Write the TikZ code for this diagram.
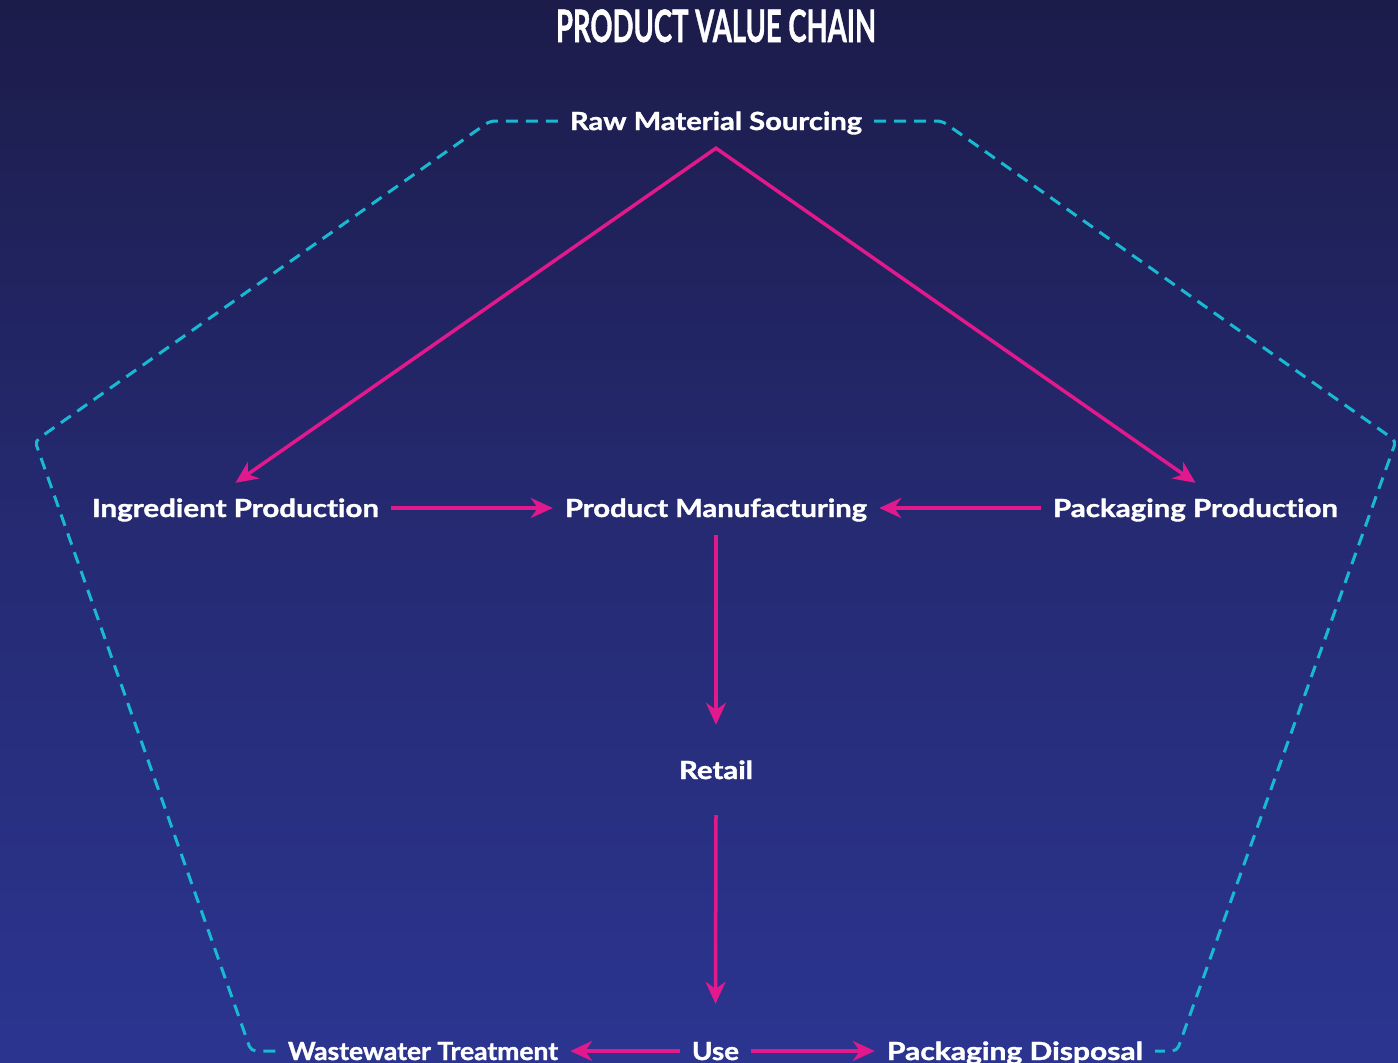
\documentclass[tikz,border=0pt]{standalone}
\usepackage{fontspec}
\setmainfont{Lato}[Ligatures=NoCommon, BoldFeatures={FakeBold=1.3}]
\usetikzlibrary{arrows.meta}
\definecolor{bgtop}{HTML}{1C1C4A}
\definecolor{bgmid}{HTML}{252A72}
\definecolor{bgbot}{HTML}{2B3590}
\definecolor{pinkc}{HTML}{E2198C}
\definecolor{cyanl}{HTML}{19B9D1}
\newcommand{\fw}[2]{\resizebox{#1pt}{\height}{#2}}
\begin{document}
\begin{tikzpicture}[x=1pt,y=-1pt,
 lbl/.style={text=white, font=\fontsize{25}{25}\selectfont\bfseries, text height=18pt, text depth=0pt, inner xsep=12pt, inner ysep=17pt, anchor=base},
 ttl/.style={text=white, font=\fontsize{44.7}{45}\selectfont\bfseries, anchor=base, inner sep=0pt},
 arr/.style={draw=pinkc, line width=3.5pt, -{Stealth[length=22pt,width=20pt,inset=7pt]}},
 dsh/.style={draw=cyanl, line width=3pt, dash pattern=on 12pt off 8pt, rounded corners=5pt}]
\useasboundingbox (0,0) rectangle (1398,1063);
\shade[top color=bgtop, bottom color=bgbot, middle color=bgmid] (0,0) rectangle (1398,1063);

\node[ttl] (title) at (716,42) {\fw{320}{PRODUCT VALUE CHAIN}};
\node[lbl, inner ysep=18pt] (raw) at (716,130) {\fw{292}{Raw Material Sourcing}};
\node[lbl, inner ysep=16pt] (ing) at (235.5,517) {\fw{287}{Ingredient Production}};
\node[lbl, inner ysep=18pt] (pm) at (716,517) {\fw{302}{Product Manufacturing}};
\node[lbl, inner ysep=16pt] (pack) at (1195.5,517) {\fw{285}{Packaging Production}};
\node[lbl, inner ysep=36pt] (retail) at (716,779) {\fw{74}{Retail}};
\node[lbl, inner ysep=38pt] (use) at (715.5,1060) {\fw{47}{Use}};
\node[lbl] (wt) at (423,1060) {\fw{270}{Wastewater Treatment}};
\node[lbl] (pd) at (1015,1060) {\fw{256}{Packaging Disposal}};

\coordinate (tl) at (490,121);
\coordinate (lv) at (35,441);
\coordinate (bl) at (251,1051);
\coordinate (tr) at (942,121);
\coordinate (rv) at (1396,441);
\coordinate (br) at (1177,1051);
\draw[dsh] (raw.west) -- (tl) -- (lv) -- (bl) -- (wt.west);
\draw[dsh] (raw.east) -- (tr) -- (rv) -- (br) -- (pd.east);

\draw[arr, {Stealth[length=22pt,width=20pt,inset=7pt]}-{Stealth[length=22pt,width=20pt,inset=7pt]}] (ing.north) -- (raw.south) -- (pack.north);
\draw[arr] (ing.east) -- (pm.west);
\draw[arr] (pack.west) -- (pm.east);
\draw[arr] (pm.south) -- (retail.north);
\draw[arr] (retail.south) -- (use.north);
\draw[arr] (use.west) -- (wt.east);
\draw[arr] (use.east) -- (pd.west);
\end{tikzpicture}
\end{document}
